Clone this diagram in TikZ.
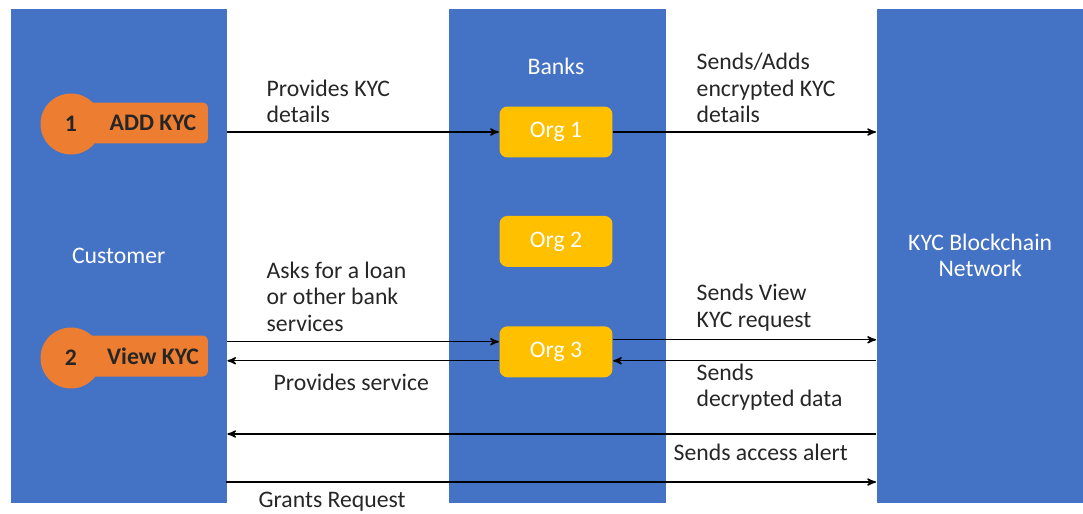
\documentclass[tikz,border=0pt]{standalone}
\usepackage{fontspec}
\setmainfont{Carlito}
\usetikzlibrary{positioning,calc,arrows}
\usepackage{xcolor}
\definecolor{colblue}{HTML}{4472C4}
\definecolor{kycorange}{HTML}{ED7D31}
\definecolor{orggold}{HTML}{FFC000}

\begin{document}
\begin{tikzpicture}[x=0.02cm,y=-0.02cm,>=stealth',thick,
    font=\fontsize{13.5}{15}\selectfont,
    column node/.style={fill=colblue,anchor=north west,minimum height=9.88cm,
      text=white,align=center,inner sep=0pt},
    org node/.style={rounded corners=0.16cm,fill=orggold,text=white,
      minimum width=2.26cm,minimum height=1.02cm},
    pill box/.style={rounded corners=0.1cm,fill=kycorange,minimum width=2.46cm,
      minimum height=0.82cm,inner sep=0pt,font=\fontsize{13.5}{15}\bfseries,text=black!85},
    pill circle/.style={circle,fill=kycorange,minimum size=1.22cm,inner sep=0pt,
      font=\fontsize{13.5}{15}\bfseries,text=black!85},
    msg/.style={anchor=west,align=left,inner sep=0pt,text=black!85},
    flow/.style={->,line width=0.8pt}]
    \useasboundingbox (0,0) rectangle (1083,514);
    % nodes
      \node[column node,minimum width=4.32cm] (cust) at (10,8) {Customer};
      \node[column node,minimum width=4.34cm] (bank) at (448,8) {};
      \node[column node,minimum width=4.14cm] (kyc) at (876,8) {KYC Blockchain\\Network};
      \node[text=white] (banks) at (556,66) {Banks};
      \node[org node] (org1) at (556,132) {Org 1};
      \node[org node] (org2) [below = 1.14cm of org1] {Org 2};
      \node[org node] (org3) [below = 1.16cm of org2] {Org 3};
      \node[pill box] (addbox) at (146.5,123) {\hspace*{0.26cm}ADD KYC};
      \node[pill circle] (add) at (71,124) {1};
      \node[pill box] (viewbox) at (146.5,356) {\hspace*{0.26cm}View KYC};
      \node[pill circle] (view) at (71,358) {2};
      \coordinate (ask) at ([yshift=0.2cm]org3.west);
      \coordinate (serve) at ([yshift=-0.18cm]org3.west);
      \coordinate (req) at ([yshift=0.24cm]org3.east);
      \coordinate (dec) at ([yshift=-0.18cm]org3.east);
      \coordinate (alert) at (876,434);
      \coordinate (grant) at (226,482);
      %edges
      \path[flow]
        (cust.east |- org1) edge (org1.west)
        (org1.east) edge (kyc.west |- org1)
        (cust.east |- ask) edge (ask)
        (serve) edge (cust.east |- serve)
        (req) edge (kyc.west |- req)
        (kyc.west |- dec) edge (dec)
        (alert) edge (cust.east |- alert)
        (grant) edge (kyc.west |- grant);
      % labels
      \node[msg] (l1) at (266,101.5) {Provides KYC\\details};
      \node[msg] (l2) at (696,88) {Sends/Adds\\encrypted KYC\\details};
      \node[msg] (l3) at (266,296.5) {Asks for a loan\\or other bank\\services};
      \node[msg] (l4) at (273,382) {Provides service};
      \node[msg] (l5) at (696,307.5) {Sends View\\KYC request};
      \node[msg] (l6) at (696,387) {Sends\\decrypted data};
      \node[msg] (l7) at (673,452) {Sends access alert};
      \node[msg] (l8) at (258,502) {Grants Request};
\end{tikzpicture}
\end{document}
